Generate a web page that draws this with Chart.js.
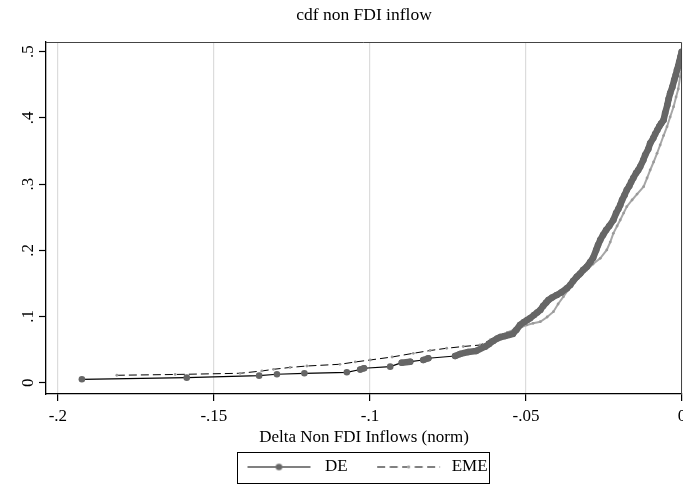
<!DOCTYPE html>
<html>
<head>
<meta charset="utf-8">
<script src="https://cdn.jsdelivr.net/npm/chart.js@4.4.1/dist/chart.umd.min.js"></script>
<style>
  html, body { margin: 0; padding: 0; background: #fff; }
  #wrap { width: 683px; height: 487px; }
</style>
</head>
<body>
<div id="wrap"><canvas id="cdf-chart" width="683" height="487"></canvas></div>
<script>
// DE: empirical cdf (x = delta non FDI inflow, y = share)
const deX = [-0.1923, -0.1587, -0.1355, -0.1298, -0.1210, -0.1074, -0.1031, -0.1019, -0.0935, -0.0898,
  -0.0871, -0.0829, -0.0813, -0.0727, -0.0711, -0.0685, -0.0660, -0.0631, -0.0618, -0.0605,
  -0.0592, -0.0583, -0.0567, -0.0554, -0.0542, -0.0531, -0.0519, -0.0506, -0.0496, -0.0487,
  -0.0474, -0.0464, -0.0454, -0.0445, -0.0435, -0.0428, -0.0416, -0.0401, -0.0387, -0.0369,
  -0.0358, -0.0349, -0.0337, -0.0326, -0.0317, -0.0305, -0.0294, -0.0285, -0.0275, -0.0269,
  -0.0262, -0.0253, -0.0243, -0.0233, -0.0220, -0.0211, -0.0204, -0.0198, -0.0192, -0.0184,
  -0.0177, -0.0169, -0.0163, -0.0156, -0.0147, -0.0140, -0.0134, -0.0124, -0.0118, -0.0108,
  -0.0102, -0.0092, -0.0086, -0.0079, -0.0073, -0.0067, -0.0059, -0.0054, -0.0047, -0.0043,
  -0.0038, -0.0031, -0.0025, -0.0020, -0.0016, -0.0012, -0.0009, -0.0005, -0.0001];
const deY = [0.0051, 0.0076, 0.0106, 0.0127, 0.0142, 0.0157, 0.0199, 0.0218, 0.0242, 0.0302,
  0.0317, 0.0343, 0.0369, 0.0403, 0.0434, 0.0464, 0.0479, 0.0544, 0.0585, 0.0630,
  0.0668, 0.0686, 0.0705, 0.0721, 0.0736, 0.0796, 0.0872, 0.0917, 0.0947, 0.0973,
  0.1023, 0.1060, 0.1098, 0.1159, 0.1211, 0.1249, 0.1287, 0.1325, 0.1363, 0.1426,
  0.1476, 0.1536, 0.1601, 0.1650, 0.1702, 0.1752, 0.1823, 0.1884, 0.2005, 0.2080,
  0.2156, 0.2231, 0.2307, 0.2367, 0.2458, 0.2563, 0.2624, 0.2684, 0.2760, 0.2835,
  0.2911, 0.2971, 0.3032, 0.3092, 0.3168, 0.3213, 0.3263, 0.3364, 0.3440, 0.3530,
  0.3616, 0.3696, 0.3757, 0.3817, 0.3870, 0.3915, 0.3968, 0.4074, 0.4195, 0.4285,
  0.4372, 0.4467, 0.4572, 0.4648, 0.4724, 0.4784, 0.4844, 0.4920, 0.5000];

// EME
const emeX = [-0.1811, -0.1624, -0.1416, -0.1346, -0.1309, -0.1256, -0.1202, -0.1096, -0.1047, -0.0999,
  -0.0929, -0.0861, -0.0807, -0.0754, -0.0701, -0.0647, -0.0615, -0.0583, -0.0560, -0.0540,
  -0.0519, -0.0497, -0.0477, -0.0454, -0.0432, -0.0412, -0.0397, -0.0380, -0.0365, -0.0348,
  -0.0326, -0.0305, -0.0285, -0.0262, -0.0241, -0.0230, -0.0220, -0.0208, -0.0198, -0.0187,
  -0.0177, -0.0160, -0.0144, -0.0123, -0.0112, -0.0102, -0.0091, -0.0080, -0.0070, -0.0059,
  -0.0048, -0.0038, -0.0027, -0.0019, -0.0012, -0.0006, -0.0001];
const emeY = [0.0112, 0.0124, 0.0142, 0.0177, 0.0202, 0.0230, 0.0252, 0.0278, 0.0313, 0.0343,
  0.0388, 0.0444, 0.0486, 0.0520, 0.0547, 0.0569, 0.0645, 0.0721, 0.0758, 0.0796,
  0.0834, 0.0872, 0.0897, 0.0921, 0.0992, 0.1073, 0.1189, 0.1299, 0.1400, 0.1502,
  0.1604, 0.1702, 0.1793, 0.1879, 0.2005, 0.2125, 0.2257, 0.2367, 0.2458, 0.2563,
  0.2659, 0.2760, 0.2850, 0.2961, 0.3092, 0.3213, 0.3334, 0.3465, 0.3591, 0.3734,
  0.3867, 0.4014, 0.4169, 0.4316, 0.4437, 0.4622, 0.4724];

const seriesNames = ['DE', 'EME'];
const xTickValues = [-0.2, -0.15, -0.1, -0.05, 0];
const xTickLabels = ['-.2', '-.15', '-.1', '-.05', '0'];
const yTickValues = [0, 0.1, 0.2, 0.3, 0.4, 0.5];
const yTickLabels = ['0', '.1', '.2', '.3', '.4', '.5'];

const SERIF = "'Liberation Serif', 'Times New Roman', serif";

function toPoints(xs, ys) {
    return xs.map((x, i) => ({ x: x, y: ys[i] }));
}

// where markers sit closer than this (px) they merge into a band
function segLen(c) {
    return Math.hypot(c.p1.x - c.p0.x, c.p1.y - c.p0.y);
}
const deBand = c => segLen(c) < 12;
const emeBand = c => emeX[c.p0DataIndex] >= -0.056 && segLen(c) < 13;

// small picture for the legend: line with a marker in the middle
function legendSample(dashed) {
    const c = document.createElement('canvas');
    c.width = 76;
    c.height = 15;
    const g = c.getContext('2d');
    const x0 = dashed ? 10 : 7;
    g.strokeStyle = '#000';
    g.lineWidth = 1;
    if (dashed) g.setLineDash([8, 4.5]);
    g.beginPath();
    g.moveTo(x0, 7.5);
    g.lineTo(x0 + 63, 7.5);
    g.stroke();
    g.setLineDash([]);
    g.fillStyle = dashed ? '#9a9a9a' : '#666';
    g.beginPath();
    g.arc(x0 + 31.5, 7.5, dashed ? 1.4 : 3.3, 0, Math.PI * 2);
    g.fill();
    return c;
}
const samples = [legendSample(false), legendSample(true)];

// frame, rotated y labels, legend box
const stataExtras = {
    id: 'stataExtras',
    afterDraw(chart) {
        const ctx = chart.ctx;
        const a = chart.chartArea;
        ctx.save();

        ctx.strokeStyle = '#444';
        ctx.lineWidth = 1;
        ctx.beginPath();
        ctx.moveTo(a.left, a.top + 0.5);
        ctx.lineTo(a.right - 0.5, a.top + 0.5);
        ctx.lineTo(a.right - 0.5, a.bottom);
        ctx.stroke();

        const ys = chart.scales.y;
        ctx.fillStyle = '#000';
        ctx.font = '17px ' + SERIF;
        ctx.textAlign = 'center';
        ctx.textBaseline = 'middle';
        yTickValues.forEach((v, i) => {
            ctx.save();
            ctx.translate(29, ys.getPixelForValue(v));
            ctx.rotate(-Math.PI / 2);
            ctx.fillText(yTickLabels[i], 0, 0);
            ctx.restore();
        });

        const hb = chart.legend.legendHitBoxes;
        if (hb && hb.length) {
            const last = hb[hb.length - 1];
            const left = hb[0].left - 3;
            const right = last.left + last.width + 2;
            const top = hb[0].top - 7;
            const bottom = hb[0].top + hb[0].height + 7;
            ctx.strokeStyle = '#000';
            ctx.lineWidth = 1;
            ctx.strokeRect(Math.round(left) + 0.5, Math.round(top) + 0.5,
                Math.round(right - left), Math.round(bottom - top));
        }
        ctx.restore();
    }
};

const ctx = document.getElementById('cdf-chart').getContext('2d');

new Chart(ctx, {
    type: 'scatter',
    data: {
        datasets: [{
            label: seriesNames[0],
            data: toPoints(deX, deY),
            showLine: true,
            borderColor: '#000',
            borderWidth: 1.2,
            borderCapStyle: 'round',
            borderJoinStyle: 'round',
            pointRadius: 3.3,
            pointBackgroundColor: '#666',
            pointBorderWidth: 0,
            tension: 0,
            segment: {
                borderColor: c => deBand(c) ? '#666' : undefined,
                borderWidth: c => deBand(c) ? 6.5 : undefined
            }
        }, {
            label: seriesNames[1],
            data: toPoints(emeX, emeY),
            showLine: true,
            borderColor: '#000',
            borderWidth: 1,
            borderDash: [8, 4],
            pointRadius: 1.4,
            pointBackgroundColor: '#9a9a9a',
            pointBorderWidth: 0,
            tension: 0,
            segment: {
                borderColor: c => emeBand(c) ? '#a6a6a6' : undefined,
                borderDash: c => emeBand(c) ? [] : undefined,
                borderWidth: c => emeBand(c) ? 2 : undefined
            }
        }]
    },
    options: {
        responsive: false,
        animation: false,
        devicePixelRatio: 1,
        layout: {
            autoPadding: false,
            padding: { left: 0, right: 1, top: 0, bottom: 1.5 }
        },
        plugins: {
            title: {
                display: true,
                text: 'cdf non FDI inflow',
                fullSize: false,
                color: '#000',
                font: { family: SERIF, size: 17.5, weight: 'normal' },
                padding: { top: 5, bottom: 16 }
            },
            legend: {
                position: 'bottom',
                fullSize: false,
                labels: {
                    color: '#000',
                    font: { family: SERIF, size: 17 },
                    padding: 19.5,
                    usePointStyle: true,
                    pointStyleWidth: 76,
                    generateLabels: () => seriesNames.map((name, i) => ({
                        text: name,
                        pointStyle: samples[i],
                        datasetIndex: i,
                        hidden: false,
                        fillStyle: 'rgba(0,0,0,0)',
                        strokeStyle: 'rgba(0,0,0,0)',
                        lineWidth: 0,
                        fontColor: '#000'
                    }))
                }
            },
            tooltip: { enabled: false }
        },
        scales: {
            x: {
                type: 'linear',
                min: -0.2038,
                max: 0,
                afterBuildTicks: (scale) => {
                    scale.ticks = xTickValues.map(v => ({ value: v }));
                },
                afterFit: (scale) => {
                    scale.height = 45;
                    scale.paddingLeft = 0;
                    scale.paddingRight = 0;
                },
                ticks: {
                    color: '#000',
                    font: { family: SERIF, size: 17 },
                    padding: 5,
                    maxRotation: 0,
                    autoSkip: false,
                    callback: (value, index) => xTickLabels[index]
                },
                grid: {
                    color: '#dcdcdc',
                    lineWidth: 1.2,
                    drawTicks: true,
                    tickLength: 7,
                    tickColor: '#000',
                    tickWidth: 1.2
                },
                border: { color: '#000', width: 1.3 },
                title: {
                    display: true,
                    text: 'Delta Non FDI Inflows (norm)',
                    color: '#000',
                    font: { family: SERIF, size: 17 },
                    padding: { top: 0, bottom: -8.5 }
                }
            },
            y: {
                type: 'linear',
                min: -0.0171,
                max: 0.5147,
                afterBuildTicks: (scale) => {
                    scale.ticks = yTickValues.map(v => ({ value: v }));
                },
                afterFit: (scale) => {
                    scale.width = 46;
                    scale.paddingTop = 0;
                    scale.paddingBottom = 0;
                },
                ticks: { display: false },
                grid: {
                    drawOnChartArea: false,
                    drawTicks: true,
                    tickLength: 7,
                    tickColor: '#000',
                    tickWidth: 1.2
                },
                border: { color: '#000', width: 1.3 }
            }
        }
    },
    plugins: [stataExtras]
});
</script>
</body>
</html>
